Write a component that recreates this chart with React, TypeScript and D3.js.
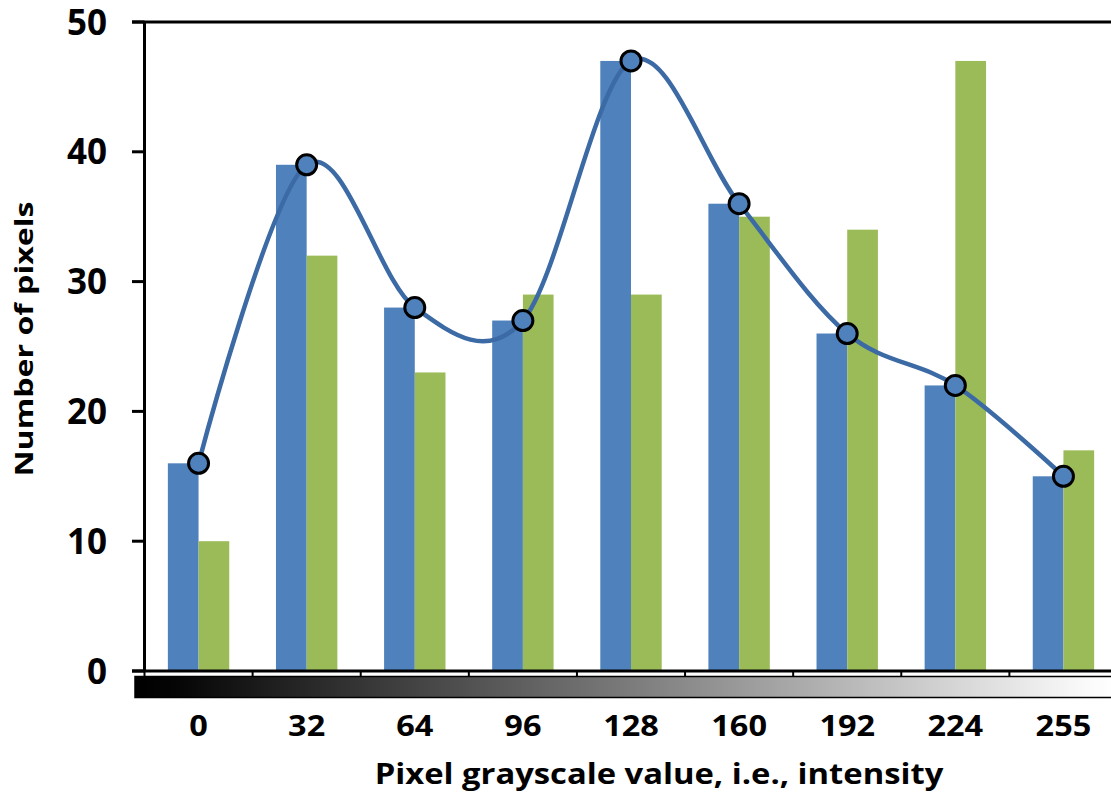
import React from "react";
import * as d3 from "d3";

const categories = ["0", "32", "64", "96", "128", "160", "192", "224", "255"];
const blueValues = [16, 39, 28, 27, 47, 36, 26, 22, 15];
const greenValues = [10, 32, 23, 29, 29, 35, 34, 47, 17];
const yTicks = [0, 10, 20, 30, 40, 50];
const xTitle = "Pixel grayscale value, i.e., intensity";
const yTitle = "Number of pixels";

const W = 1111;
const H = 795;
const FONT = "'Open Sans', sans-serif";

export default function App() {
  const x = d3.scaleBand<string>().domain(categories).range([144.5, 1117.5]).padding(0);
  const y = d3.scaleLinear().domain([0, 50]).range([671, 22]);
  const bw = 30.7;
  const cx = (c: string) => (x(c) as number) + x.bandwidth() / 2;

  const pts: [number, number][] = categories.map((c, i) => [cx(c), y(blueValues[i])]);
  const line = d3.line().curve(d3.curveCardinal.tension(0))(pts) as string;

  const axisLeft = 144.5;
  const tickStart = 132;

  return (
    <svg width={W} height={H} style={{ position: "absolute", left: 0, top: 0, background: "#fff" }}
      fontFamily={FONT}>
      <defs>
        <linearGradient id="gray" x1="0" x2="1" y1="0" y2="0">
          <stop offset="0" stopColor="#000" />
          <stop offset="0.04" stopColor="#050505" />
          <stop offset="0.5" stopColor="#7a7a7a" />
          <stop offset="0.97" stopColor="#fafafa" />
          <stop offset="1" stopColor="#ffffff" />
        </linearGradient>
      </defs>
      <rect x={0} y={0} width={W} height={H} fill="#fff" />

      {/* bars */}
      {categories.map((c, i) => (
        <g key={c}>
          <rect x={cx(c) - bw} y={y(blueValues[i])} width={bw} height={y(0) - y(blueValues[i])} fill="#4f81bd" />
          <rect x={cx(c)} y={y(greenValues[i])} width={bw} height={y(0) - y(greenValues[i])} fill="#9bbb59" />
        </g>
      ))}

      {/* gradient bar */}
      <rect x={135} y={676.5} width={W - 135 + 5} height={21} fill="url(#gray)" stroke="#000" strokeWidth={1.5} />

      {/* axes */}
      <line x1={tickStart} x2={W} y1={y(50)} y2={y(50)} stroke="#000" strokeWidth={3} />
      <line x1={tickStart} x2={W} y1={y(0)} y2={y(0)} stroke="#000" strokeWidth={3} />
      <line x1={axisLeft} x2={axisLeft} y1={y(50)} y2={y(0)} stroke="#000" strokeWidth={3} />
      {yTicks.map((t) => (
        <line key={"yt" + t} x1={tickStart} x2={axisLeft} y1={y(t)} y2={y(t)} stroke="#000" strokeWidth={3} />
      ))}
      {categories.map((c) => (
        <line key={"xt" + c} x1={x(c) as number} x2={x(c) as number} y1={y(0)} y2={y(0) + 5} stroke="#000" strokeWidth={2} />
      ))}

      {/* smooth line */}
      <path d={line} fill="none" stroke="#3b6aa5" strokeWidth={4.5} />
      {pts.map((p, i) => (
        <circle key={"m" + i} cx={p[0]} cy={p[1]} r={10} fill="#4f81bd" stroke="#000" strokeWidth={3} />
      ))}

      {/* y tick labels */}
      {yTicks.map((t) => (
        <text key={"yl" + t} x={107} y={y(t)} dy="0.36em" textAnchor="end" fontSize={35} fontWeight={700} fill="#000">
          {t}
        </text>
      ))}

      {/* x tick labels */}
      {categories.map((c) => (
        <text key={"xl" + c} transform={`translate(${cx(c)},736) scale(1.12,1)`} textAnchor="middle" fontSize={29} fontWeight={700} fill="#000">
          {c}
        </text>
      ))}

      {/* titles */}
      <text transform="translate(659,784) scale(1.17,1)" textAnchor="middle" fontSize={28} fontWeight={700} fill="#000">
        {xTitle}
      </text>
      <text transform="translate(33,339) rotate(-90) scale(1.26,1)" textAnchor="middle" fontSize={25.5} fontWeight={700} fill="#000">
        {yTitle}
      </text>
    </svg>
  );
}
